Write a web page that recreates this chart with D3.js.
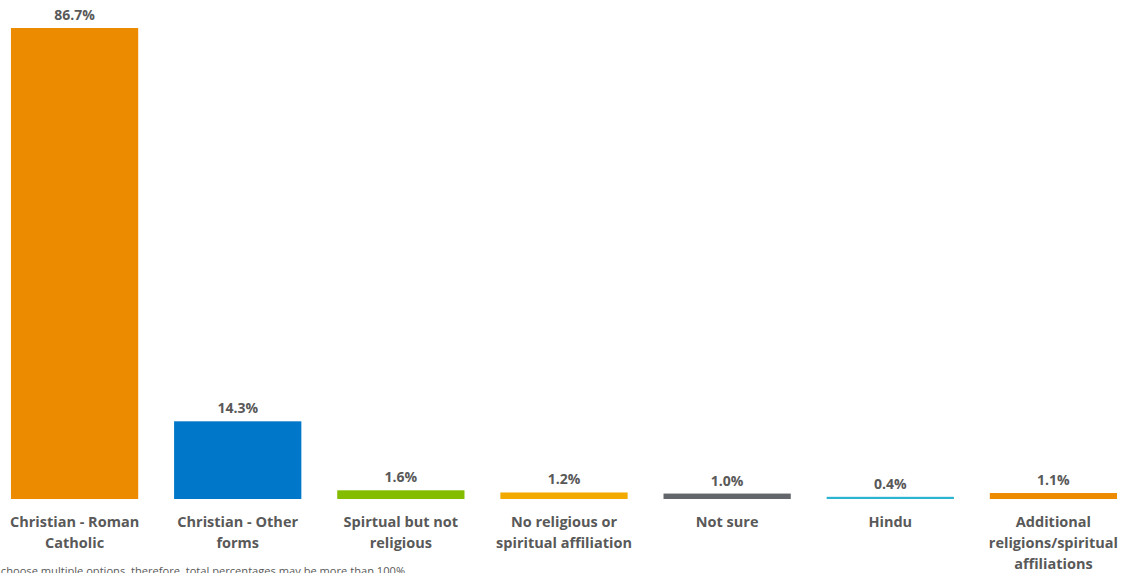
<!DOCTYPE html>
<html>
<head>
<meta charset="utf-8">
<script src="https://cdn.jsdelivr.net/npm/d3@7"></script>
<style>
  html, body { margin: 0; padding: 0; background: #ffffff; }
  svg { display: block; font-family: "Open Sans", "Noto Sans", sans-serif; }
</style>
</head>
<body>
<svg id="chart" width="1123" height="573"></svg>
<script>
// Religious / spiritual affiliation (respondents could pick more than one)
const categories = [
  ["Christian - Roman", "Catholic"],
  ["Christian - Other", "forms"],
  ["Spirtual but not", "religious"],
  ["No religious or", "spiritual affiliation"],
  ["Not sure"],
  ["Hindu"],
  ["Additional", "religions/spiritual", "affiliations"]
];
const values = [86.7, 14.3, 1.6, 1.2, 1.0, 0.4, 1.1];
const colors = ["#ED8B00", "#0077C8", "#84BD00", "#F2A900", "#63666A", "#2BB5D0", "#ED8B00"];
const footnote = "Respondents could choose multiple options, therefore, total percentages may be more than 100%.";

const svg = d3.select("#chart");
const baseline = 499;
const topY = 28;

const x = d3.scaleBand()
  .domain(d3.range(values.length))
  .range([-7, 1135])
  .paddingInner(0.22)
  .paddingOuter(0.11);

const y = d3.scaleLinear()
  .domain([0, 86.7])
  .range([baseline, topY]);

const bars = svg.append("g");
bars.selectAll("rect")
  .data(values)
  .join("rect")
  .attr("x", (d, i) => x(i))
  .attr("y", d => y(d))
  .attr("width", x.bandwidth())
  .attr("height", d => baseline - y(d))
  .attr("fill", (d, i) => colors[i]);

// value labels above each bar
svg.append("g").selectAll("text")
  .data(values)
  .join("text")
  .attr("x", (d, i) => x(i) + x.bandwidth() / 2)
  .attr("y", d => y(d) - 8)
  .attr("text-anchor", "middle")
  .attr("fill", "#595959")
  .attr("font-size", 14)
  .attr("font-weight", 700)
  .text(d => d.toFixed(1) + "%");

// category labels under the baseline
const cat = svg.append("g").selectAll("text")
  .data(categories)
  .join("text")
  .attr("x", (d, i) => x(i) + x.bandwidth() / 2)
  .attr("y", 527)
  .attr("text-anchor", "middle")
  .attr("fill", "#595959")
  .attr("font-size", 14.5)
  .attr("font-weight", 700);
cat.selectAll("tspan")
  .data(d => d)
  .join("tspan")
  .attr("x", function () { return d3.select(this.parentNode).attr("x"); })
  .attr("dy", (d, i) => i === 0 ? 0 : 21)
  .text(d => d);

svg.append("text")
  .attr("x", 408)
  .attr("y", 575)
  .attr("text-anchor", "end")
  .attr("fill", "#595959")
  .attr("font-size", 11.12)
  .text(footnote);
</script>
</body>
</html>
